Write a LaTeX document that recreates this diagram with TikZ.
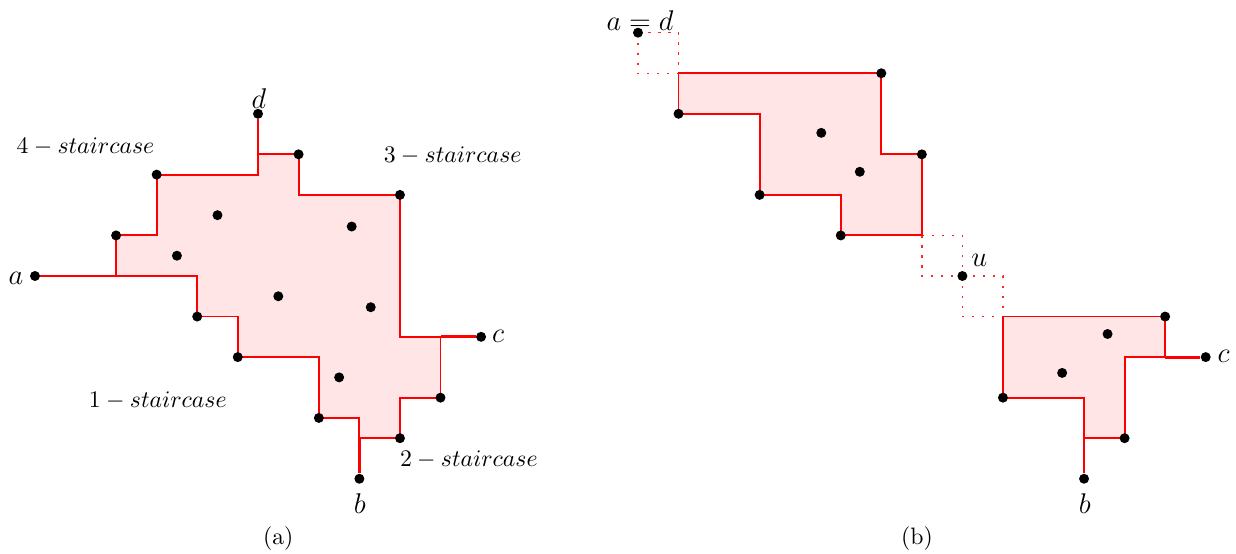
\documentclass[tikz,border=0pt]{standalone}
\begin{document}
\begin{tikzpicture}[x=0.6cm,y=0.6cm,
  pt/.style={circle,fill=black,inner sep=0pt,minimum size=4.2pt},
  stem/.style={red,line width=1.2pt},
  region/.style={fill=red!10,draw=red,line width=0.8pt},
  ghost/.style={red!85,line width=0.6pt,dash pattern=on 0.9pt off 3.3pt},
  lbl/.style={font=\large,inner sep=0pt},
  stl/.style={inner sep=0pt},
  capt/.style={inner sep=0pt}]
\useasboundingbox (-0.863,-6.855) rectangle (29.617,6.806);
% ---------------- (a) ----------------
\path[region] (2,0) -- (2,1) -- (3,1) -- (3,2.5) -- (5.5,2.5) -- (5.5,3) -- (6.5,3) -- (6.5,2) -- (9,2) -- (9,-1.5) -- (10,-1.5) -- (10,-3) -- (9,-3) -- (9,-4) -- (8,-4) -- (8,-3.5) -- (7,-3.5) -- (7,-2) -- (5,-2) -- (5,-1) -- (4,-1) -- (4,0) -- cycle;
\node[pt] (a) at (0,0) {};
\node[pt] (d) at (5.5,4) {};
\node[pt] (c) at (11,-1.5) {};
\node[pt] (b) at (8,-5) {};
\coordinate (ja) at (2,0);
\coordinate (jd) at (5.5,3);
\coordinate (jc) at (10,-1.5);
\coordinate (jb) at (8,-4);
\draw[stem] (a) -- (ja);
\draw[stem] (d) -- (jd);
\draw[stem] (c) -- (jc);
\draw[stem] (b) -- (jb);
\node[pt] (p1) at (2,1) {};
\node[pt] (p2) at (3,2.5) {};
\node[pt] (p3) at (6.5,3) {};
\node[pt] (p4) at (9,2) {};
\node[pt] (p5) at (10,-3) {};
\node[pt] (p6) at (9,-4) {};
\node[pt] (p7) at (7,-3.5) {};
\node[pt] (p8) at (5,-2) {};
\node[pt] (p9) at (4,-1) {};
\node[pt] (q1) at (4.5,1.5) {};
\node[pt] (q2) at (3.5,0.5) {};
\node[pt] (q3) at (6,-0.5) {};
\node[pt] (q4) at (7.81,1.22) {};
\node[pt] (q5) at (8.28,-0.77) {};
\node[pt] (q6) at (7.5,-2.5) {};
\node[lbl] (la) at (-0.47,-0.05) {$a$};
\node[lbl] (ld) at (5.52,4.37) {$d$};
\node[lbl] (lc) at (11.42,-1.5) {$c$};
\node[lbl] (lb) at (8.01,-5.62) {$b$};
\node[stl] (s4) at (1.245,3.196) {$4-staircase$};
\node[stl] (s3) at (10.30,2.97) {$3-staircase$};
\node[stl] (s1) at (3.03,-3.08) {$1-staircase$};
\node[stl] (s2) at (10.70,-4.54) {$2-staircase$};
\node[capt] (capa) at (6.0,-6.47) {(a)};
% ---------------- (b) ----------------
\begin{scope}[shift={(14.87,6)}]
\draw[ghost] (0,0) rectangle (1,-1);
\draw[ghost] (7,-5) rectangle (8,-6);
\draw[ghost] (8,-6) rectangle (9,-7);
\path[region] (1,-1) -- (6,-1) -- (6,-3) -- (7,-3) -- (7,-5) -- (5,-5) -- (5,-4) -- (3,-4) -- (3,-2) -- (1,-2) -- cycle;
\path[region] (9,-7) -- (13,-7) -- (13,-8) -- (12,-8) -- (12,-10) -- (11,-10) -- (11,-9) -- (9,-9) -- cycle;
\node[pt] (ad) at (0,0) {};
\node[pt] (u) at (8,-6) {};
\node[pt] (c2) at (14,-8) {};
\node[pt] (b2) at (11,-11) {};
\coordinate (jc2) at (13,-8);
\coordinate (jb2) at (11,-10);
\draw[stem] (c2) -- (jc2);
\draw[stem] (b2) -- (jb2);
\node[pt] (r1) at (6,-1) {};
\node[pt] (r2) at (7,-3) {};
\node[pt] (r3) at (5,-5) {};
\node[pt] (r4) at (3,-4) {};
\node[pt] (r5) at (1,-2) {};
\node[pt] (r6) at (4.52,-2.47) {};
\node[pt] (r7) at (5.47,-3.43) {};
\node[pt] (r8) at (13,-7) {};
\node[pt] (r9) at (12,-10) {};
\node[pt] (r10) at (9,-9) {};
\node[pt] (r11) at (11.58,-7.43) {};
\node[pt] (r12) at (10.46,-8.39) {};
\end{scope}
\node[lbl] (lad) at (14.92,6.29) {$a=d$};
\node[lbl] (lu) at (23.29,0.39) {$u$};
\node[lbl] (lc2) at (29.31,-1.99) {$c$};
\node[lbl] (lb2) at (25.89,-5.62) {$b$};
\node[capt] (capb) at (21.75,-6.47) {(b)};
\end{tikzpicture}
\end{document}
